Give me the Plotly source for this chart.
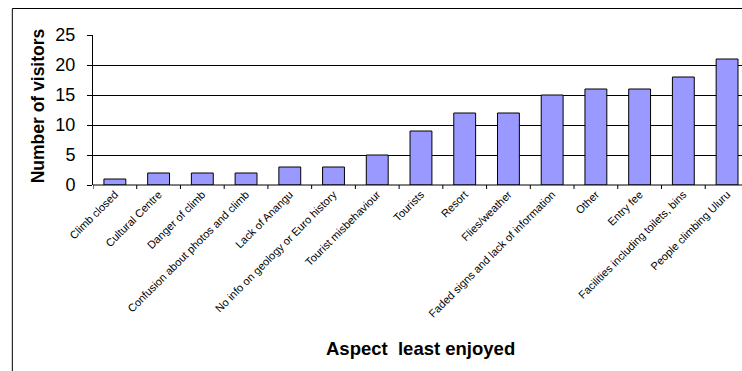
import plotly.graph_objects as go

# Visitor survey: aspects of the visit least enjoyed
aspects = [
    "Climb closed",
    "Cultural Centre",
    "Danger of climb",
    "Confusion about photos and climb",
    "Lack of Anangu",
    "No info on geology or Euro history",
    "Tourist misbehaviour",
    "Tourists",
    "Resort",
    "Flies/weather",
    "Faded signs and lack of information",
    "Other",
    "Entry fee",
    "Facilities including toilets, bins",
    "People climbing Uluru",
]
visitors = [1, 2, 2, 2, 3, 3, 5, 9, 12, 12, 15, 16, 16, 18, 21]
y_ticks = [0, 5, 10, 15, 20, 25]

W, H = 742, 371
L, T, B = 92.7, 35, 185
plot_w = W - L
plot_h = B - T
cat_px = 43.75  # width of one category slot

FONT = "Liberation Sans, Arial, sans-serif"

fig = go.Figure(
    go.Bar(
        x=list(range(len(aspects))),
        y=visitors,
        width=0.5,
        marker=dict(color="#9999FF", line=dict(color="#000000", width=1)),
        hoverinfo="x+y",
    )
)

fig.update_layout(
    width=W,
    height=H,
    autosize=False,
    margin=dict(l=L, r=0, t=T, b=H - B, pad=0),
    paper_bgcolor="white",
    plot_bgcolor="white",
    showlegend=False,
    font=dict(family=FONT, color="#000000"),
    xaxis=dict(
        tickmode="array",
        tickvals=list(range(len(aspects))),
        ticktext=aspects,
        tickangle=-45,
        tickfont=dict(size=11, family=FONT, color="#000000"),
        range=[-0.5, -0.5 + plot_w / cat_px],
        showgrid=False,
        zeroline=False,
        showline=False,
        ticks="",
        automargin=False,
    ),
    yaxis=dict(
        range=[0, 25],
        tickvals=y_ticks,
        tickfont=dict(size=18, family=FONT, color="#000000"),
        showgrid=True,
        gridcolor="#000000",
        gridwidth=1,
        zeroline=False,
        showline=True,
        linecolor="#000000",
        linewidth=1,
        ticks="outside",
        ticklen=5,
        tickcolor="#000000",
        ticklabelstandoff=8,
        automargin=False,
    ),
    shapes=[
        # outer chart frame (runs off the right and bottom edges)
        dict(
            type="rect", xref="paper", yref="paper",
            x0=(12 - L) / plot_w, x1=1.2,
            y0=-3, y1=(B - 8.5) / plot_h,
            line=dict(color="#000000", width=1),
            fillcolor="rgba(0,0,0,0)", layer="below",
        ),
        # category axis line
        dict(
            type="line", xref="paper", yref="paper",
            x0=0, x1=1, y0=0, y1=0,
            line=dict(color="#000000", width=1),
        ),
    ]
    + [
        # boundary tick marks between categories
        dict(
            type="line", xref="x", yref="paper",
            x0=i - 0.5, x1=i - 0.5, y0=0, y1=-4 / plot_h,
            line=dict(color="#000000", width=1),
        )
        for i in range(len(aspects) + 1)
    ],
    annotations=[
        dict(
            text="<b>Number of visitors</b>",
            xref="paper", yref="paper",
            x=(38 - L) / plot_w, y=(B - 106) / plot_h,
            textangle=-90, showarrow=False,
            font=dict(size=17.5, family=FONT, color="#000000"),
            xanchor="center", yanchor="middle",
        ),
        dict(
            text="<b>Aspect  least enjoyed</b>",
            xref="paper", yref="paper",
            x=(420 - L) / plot_w, y=(B - 348) / plot_h,
            showarrow=False,
            font=dict(size=18.5, family=FONT, color="#000000"),
            xanchor="center", yanchor="middle",
        ),
    ],
)

fig.write_html("out.html")
